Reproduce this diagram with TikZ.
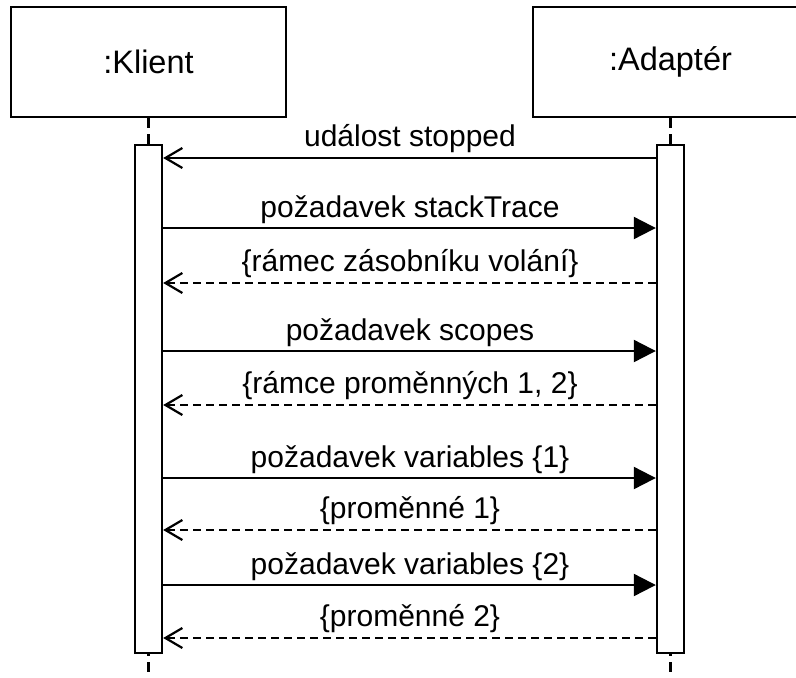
\documentclass[tikz,border=0pt]{standalone}
\usepackage{fontspec}
\setmainfont{Liberation Sans}
\usetikzlibrary{arrows.meta}
\begin{document}
\begin{tikzpicture}[x=1pt,y=-1pt,
  objbox/.style={draw,line width=2.6pt,minimum width=275pt,minimum height=110pt,inner sep=0pt,font=\fontsize{32.5}{38}\selectfont},
  actbar/.style={draw,fill=white,line width=2.4pt,minimum width=27pt,minimum height=508pt,inner sep=0pt},
  lifel/.style={line width=2.2pt,dash pattern=on 10pt off 6pt},
  reqmsg/.style={line width=2.2pt,-{Triangle[length=22pt,width=22pt]}},
  sigmsg/.style={line width=2.2pt,-{Straight Barb[length=17pt,width=20pt,line width=2.2pt]}},
  retmsg/.style={line width=2.2pt,dash pattern=on 8pt off 5pt,-{Straight Barb[length=17pt,width=20pt,line width=2.2pt]}},
  msglbl/.style={anchor=base,inner sep=0pt,font=\fontsize{30}{36}\selectfont}]
\clip (0,0) rectangle (796,678);
\fill[white] (0,0) rectangle (796,678);
\node[objbox] (klient) at (148.5,62) {:Klient};
\node[objbox] (adapter) at (670.5,62) {:Adaptér};
\coordinate (kend) at (148.5,676);
\coordinate (aend) at (670.5,676);
\draw[lifel] (klient.south) -- (kend);
\draw[lifel] (adapter.south) -- (aend);
\node[actbar] (kbar) at (148.5,399) {};
\node[actbar] (abar) at (670.5,399) {};
% messages
\draw[sigmsg] (abar.west |- 0,158) -- (kbar.east |- 0,158);
\node[msglbl] (m1) at (410,146) {událost stopped};
\draw[reqmsg] (kbar.east |- 0,228) -- (abar.west |- 0,228);
\node[msglbl] (m2) at (410,217) {požadavek stackTrace};
\draw[retmsg] (abar.west |- 0,283) -- (kbar.east |- 0,283);
\node[msglbl] (m3) at (410,271) {\{rámec zásobníku volání\}};
\draw[reqmsg] (kbar.east |- 0,351) -- (abar.west |- 0,351);
\node[msglbl] (m4) at (410,340) {požadavek scopes};
\draw[retmsg] (abar.west |- 0,405) -- (kbar.east |- 0,405);
\node[msglbl] (m5) at (410,393) {\{rámce proměnných 1, 2\}};
\draw[reqmsg] (kbar.east |- 0,478) -- (abar.west |- 0,478);
\node[msglbl] (m6) at (410,467) {požadavek variables \{1\}};
\draw[retmsg] (abar.west |- 0,530) -- (kbar.east |- 0,530);
\node[msglbl] (m7) at (410,518) {\{proměnné 1\}};
\draw[reqmsg] (kbar.east |- 0,585) -- (abar.west |- 0,585);
\node[msglbl] (m8) at (410,574) {požadavek variables \{2\}};
\draw[retmsg] (abar.west |- 0,638) -- (kbar.east |- 0,638);
\node[msglbl] (m9) at (410,626) {\{proměnné 2\}};
\end{tikzpicture}
\end{document}
